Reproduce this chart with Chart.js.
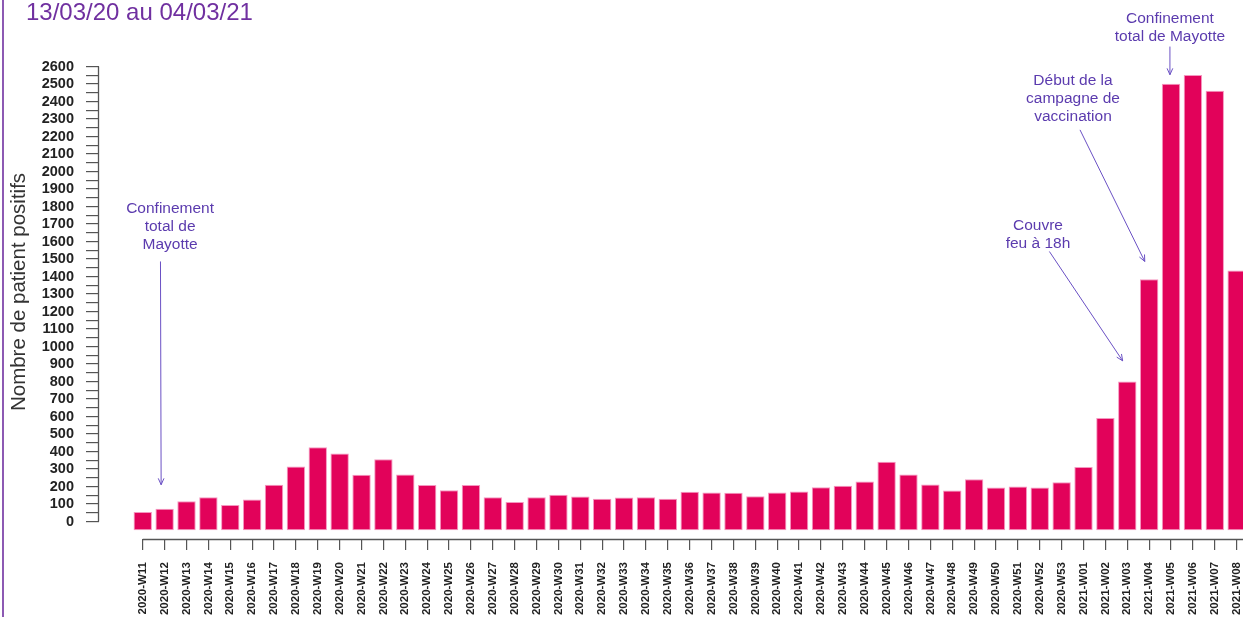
<!DOCTYPE html>
<html><head><meta charset="utf-8">
<script src="https://cdn.jsdelivr.net/npm/chart.js@4.4.1/dist/chart.umd.min.js"></script>
<style>
html,body{margin:0;padding:0;background:#fff;overflow:hidden}
canvas{display:block}
</style></head><body>
<canvas id="c" width="1243" height="617"></canvas>
<script>
// ---- data ----
const weeks = ['2020-W11','2020-W12','2020-W13','2020-W14','2020-W15','2020-W16','2020-W17','2020-W18','2020-W19','2020-W20',
  '2020-W21','2020-W22','2020-W23','2020-W24','2020-W25','2020-W26','2020-W27','2020-W28','2020-W29','2020-W30',
  '2020-W31','2020-W32','2020-W33','2020-W34','2020-W35','2020-W36','2020-W37','2020-W38','2020-W39','2020-W40',
  '2020-W41','2020-W42','2020-W43','2020-W44','2020-W45','2020-W46','2020-W47','2020-W48','2020-W49','2020-W50',
  '2020-W51','2020-W52','2020-W53','2021-W01','2021-W02','2021-W03','2021-W04','2021-W05','2021-W06','2021-W07','2021-W08'];
const positives = [54,73,116,139,94,126,210,314,425,389,
  267,356,269,208,179,208,139,111,139,153,
  143,130,137,139,130,170,166,164,145,166,
  172,196,204,229,341,269,212,177,242,194,
  200,194,225,311,591,800,1385,2501,2551,2461,1434];
const yTickMax = 2600;
const titleText = '13/03/20 au 04/03/21';
const yTitle = 'Nombre de patient positifs';
// annotation texts and their anchors (x in week index, y in value)
const annoTexts = [
  ['Confinement','total de','Mayotte'],
  ['Couvre','feu à 18h'],
  ['Début de la','campagne de','vaccination'],
  ['Confinement','total de Mayotte']
];
const annoTextAt = [[1.25,1764],[40.92,1667],[42.52,2495],[46.95,2848]];
const annoArrowFrom = [[0.81,1486],[41.44,1543],[42.84,2238],[46.95,2714]];
const annoArrowTo = [[0.84,210],[44.79,918],[45.8,1486],[46.95,2553]];

const FONT = "'Liberation Sans', Arial, sans-serif";

const decor = {
  id: 'decor',
  beforeDraw(chart) {
    const ctx = chart.ctx;
    ctx.save();
    ctx.strokeStyle = '#7030A0';
    ctx.lineWidth = 1.6;
    ctx.beginPath(); ctx.moveTo(3, 0); ctx.lineTo(3, 617); ctx.stroke();
    ctx.fillStyle = '#7030A0';
    ctx.font = '24px ' + FONT;
    ctx.textAlign = 'left'; ctx.textBaseline = 'alphabetic';
    ctx.fillText(titleText, 26, 19.5);
    ctx.restore();
  },
  afterDraw(chart) {
    const ctx = chart.ctx, xs = chart.scales.x, ys = chart.scales.y, ca = chart.chartArea;
    ctx.save();
    // axis lines (R style, detached)
    ctx.strokeStyle = '#555';
    ctx.lineWidth = 1.3;
    ctx.beginPath();
    const yx = Math.round(ca.left) - 0.5;
    ctx.moveTo(yx, ys.getPixelForValue(0)); ctx.lineTo(yx, ys.getPixelForValue(yTickMax));
    const xy = Math.round(ca.bottom) + 0.5;
    ctx.moveTo(xs.getPixelForValue(0), xy); ctx.lineTo(ca.right, xy);
    ctx.stroke();
    // annotations
    ctx.font = '15.5px ' + FONT;
    ctx.fillStyle = '#5B3BAE';
    ctx.textAlign = 'center'; ctx.textBaseline = 'alphabetic';
    annoTexts.forEach((lines, k) => {
      const tx = xs.getPixelForValue(annoTextAt[k][0]);
      const ty = ys.getPixelForValue(annoTextAt[k][1]);
      lines.forEach((l, j) => ctx.fillText(l, tx, ty + j * 18.2));
      const x1 = xs.getPixelForValue(annoArrowFrom[k][0]), y1 = ys.getPixelForValue(annoArrowFrom[k][1]);
      const x2 = xs.getPixelForValue(annoArrowTo[k][0]), y2 = ys.getPixelForValue(annoArrowTo[k][1]);
      ctx.strokeStyle = '#6A50C4';
      ctx.lineWidth = 1;
      ctx.beginPath(); ctx.moveTo(x1, y1); ctx.lineTo(x2, y2); ctx.stroke();
      const a = Math.atan2(y2 - y1, x2 - x1), L = 7, h = 0.42;
      ctx.beginPath();
      ctx.moveTo(x2 - L * Math.cos(a - h), y2 - L * Math.sin(a - h));
      ctx.lineTo(x2, y2);
      ctx.lineTo(x2 - L * Math.cos(a + h), y2 - L * Math.sin(a + h));
      ctx.stroke();
    });
    ctx.restore();
  }
};

new Chart(document.getElementById('c'), {
  type: 'bar',
  data: {
    datasets: [{
      data: positives.map((v, i) => ({x: i, y: v})),
      base: -50,
      backgroundColor: '#E2025A',
      borderColor: 'rgba(244,140,185,0.9)',
      borderWidth: 1,
      borderSkipped: false,
      barPercentage: 0.84,
      categoryPercentage: 1
    }]
  },
  options: {
    responsive: false,
    animation: false,
    devicePixelRatio: 1,
    layout: {padding: {left: 7, top: 45, right: 0, bottom: 0}},
    plugins: {legend: {display: false}, tooltip: {enabled: false}, title: {display: false}},
    scales: {
      x: {
        type: 'linear',
        offset: false,
        min: -2, max: 50.29,
        border: {display: false},
        grid: {offset: false, drawOnChartArea: false, drawTicks: true, tickLength: 11, color: '#555', lineWidth: 1.2},
        afterBuildTicks: s => { s.ticks = weeks.map((_, i) => ({value: i})); },
        afterFit: s => { s.height = 78; s.paddingLeft = 0; s.paddingRight = 0; },
        ticks: {
          autoSkip: false, minRotation: 90, maxRotation: 90, padding: 12,
          color: '#222', font: {family: FONT, size: 11.5, weight: 'bold'},
          callback: v => weeks[v] ?? ''
        }
      },
      y: {
        min: -100, max: 2723,
        border: {display: false},
        grid: {drawOnChartArea: false, drawTicks: true, tickLength: 13, color: '#555', lineWidth: 1.2},
        afterBuildTicks: s => { s.ticks = s.ticks.filter(t => t.value >= 0 && t.value <= yTickMax); },
        afterFit: s => { s.width = 92; s.paddingTop = 0; s.paddingBottom = 0; },
        ticks: {
          stepSize: 50, padding: 12, autoSkip: false,
          color: '#222', font: {family: FONT, size: 14.5, weight: 'bold'},
          callback: v => (v % 100 === 0 ? String(v) : '')
        },
        title: {display: true, text: yTitle, color: '#333', padding: {top: 0, bottom: 0},
          font: {family: FONT, size: 20.5, lineHeight: 1.2}}
      }
    }
  },
  plugins: [decor]
});
</script>
</body></html>
